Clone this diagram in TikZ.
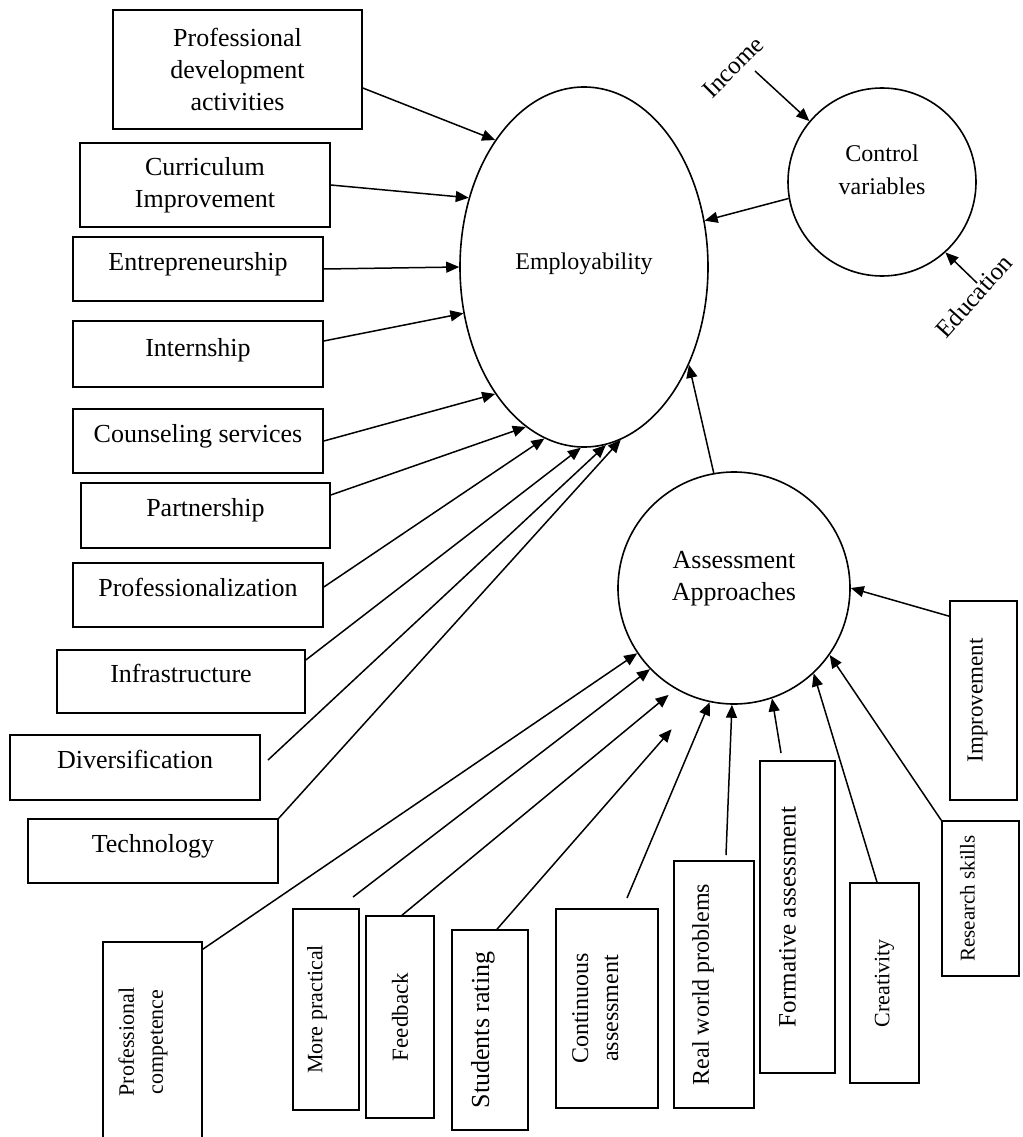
\documentclass[tikz,border=0pt]{standalone}
\usepackage{fontspec}
\setmainfont{Liberation Serif}
\usepackage{graphicx}
\usetikzlibrary{arrows.meta,shapes.geometric,calc}
\newcommand{\fsz}[2]{\fontsize{#1}{#2}\selectfont}
\begin{document}
\begin{tikzpicture}[x=1pt,y=-1pt,
  box/.style={draw, line width=1.6pt, rectangle, inner sep=0pt, font=\fsz{26pt}{32pt}, align=center},
  lbox/.style={box, text depth=16pt},
  vbox/.style={box, font=\fsz{23pt}{29pt}},
  arr/.style={line width=1.5pt, -{Triangle[length=13pt,width=11pt]}},
  circ/.style={draw, line width=1.6pt, circle, inner sep=0pt, align=center},
]
\useasboundingbox (0,0) rectangle (1022,1137);

% left boxes
\node[box, minimum width=249pt, minimum height=119pt] (pd) at (237.5,69.5) {Professional\\development\\activities};
\node[box, minimum width=250pt, minimum height=84pt] (cu) at (205,185) {Curriculum\\Improvement};
\node[lbox, minimum width=250pt, minimum height=64pt] (en) at (198,269) {Entrepreneurship};
\node[lbox, minimum width=250pt, minimum height=66pt, text depth=14pt] (in) at (198,354) {Internship};
\node[lbox, minimum width=250pt, minimum height=64pt] (co) at (198,441) {Counseling services};
\node[lbox, minimum width=249pt, minimum height=65pt] (pa) at (205.5,515.5) {Partnership};
\node[lbox, minimum width=250pt, minimum height=64pt] (pr) at (198,595) {Professionalization};
\node[lbox, minimum width=248pt, minimum height=63pt] (inf) at (181,681.5) {Infrastructure};
\node[lbox, minimum width=250pt, minimum height=65pt] (di) at (135,767.5) {Diversification};
\node[lbox, minimum width=250pt, minimum height=64pt] (te) at (153,851) {Technology};

% ellipse and circles
\node[draw, ellipse, line width=1.6pt, minimum width=248pt, minimum height=360pt, inner sep=0pt,
      font=\fsz{24pt}{29pt}, text height=16pt, text depth=12pt] (emp) at (584,267) {Employability};
\node[circ, minimum size=188pt, font=\fsz{24pt}{33pt}] (cv) at (882,182) {Control\\variables\rule[-25pt]{0pt}{0pt}};
\node[circ, minimum size=232pt, font=\fsz{26pt}{32pt}] (aa) at (734,588) {Assessment\\Approaches\rule[-24pt]{0pt}{0pt}};

% control variable labels
\node[font=\fsz{25pt}{30pt}, rotate=45] (inc) at (733,67) {Income};
\node[font=\fsz{25pt}{30pt}, rotate=48, inner sep=1pt] (edu) at (974,296) {Education};

% bottom / right boxes
\node[vbox, font=\fsz{22pt}{29pt}, minimum width=99pt, minimum height=200pt] (pc) at (152.5,1042) {\rotatebox{90}{\begin{tabular}{@{}c@{}}Professional\\competence\end{tabular}}\hspace{20pt}};
\node[vbox, font=\fsz{22pt}{29pt}, minimum width=66pt, minimum height=201pt] (mp) at (326,1009.5) {\rotatebox{90}{More practical}\hspace{18pt}};
\node[vbox, minimum width=68pt, minimum height=202pt] (fb) at (400,1017) {\rotatebox{90}{Feedback}};
\node[vbox, font=\fsz{26pt}{30pt}, minimum width=76pt, minimum height=200pt] (sr) at (490,1030) {\rotatebox{90}{Students rating}\hspace{14pt}};
\node[vbox, font=\fsz{24pt}{30pt}, minimum width=102pt, minimum height=199pt] (ca) at (607,1008.5) {\rotatebox{90}{\begin{tabular}{@{}c@{}}Continuous\\assessment\end{tabular}}\hspace{20pt}};
\node[vbox, font=\fsz{24pt}{30pt}, minimum width=80pt, minimum height=247pt] (rw) at (714,984.5) {\rotatebox{90}{Real world problems}\hspace{22pt}};
\node[vbox, font=\fsz{25pt}{30pt}, minimum width=75pt, minimum height=312pt] (fa) at (797.5,917) {\rotatebox{90}{Formative assessment}\hspace{20pt}};
\node[vbox, font=\fsz{22pt}{30pt}, minimum width=69pt, minimum height=200pt] (cr) at (884.5,983) {\rotatebox{90}{Creativity}};
\node[vbox, font=\fsz{21pt}{30pt}, minimum width=77pt, minimum height=155pt] (rs) at (980.5,898.5) {\rotatebox{90}{Research skills}\hspace{26pt}};
\node[vbox, minimum width=67pt, minimum height=199pt] (im) at (983.5,700.5) {\rotatebox{90}{Improvement}\hspace{12pt}};

% free ends
\coordinate (incs) at (755,71);
\coordinate (edus) at (977,283);
\coordinate (dis) at (268,760);
\coordinate (mps) at (353,897);
\coordinate (cas) at (627,898);
\coordinate (rws) at (726,855);
\coordinate (fas) at (781,753);

% arrows into Employability
\draw[arr] ([yshift=-18.5pt]pd.east) -- (emp.125);
\draw[arr] (cu.east) -- (emp.149);
\draw[arr] (en.east) -- (emp.180);
\draw[arr] ([yshift=13pt]in.east) -- (emp.201);
\draw[arr] (co.east) -- (emp.235);
\draw[arr] ([yshift=20.5pt]pa.east) -- (emp.250);
\draw[arr] ([yshift=8pt]pr.east) -- (emp.257);
\draw[arr] ([yshift=21.5pt]inf.east) -- (emp.269.4);
\draw[arr] (dis) -- (emp.277.8);
\draw[arr] (te.north east) -- (emp.282.4);
\draw[arr] (cv.190) -- (emp.21);
\draw[arr] (aa.100) -- (emp.317);

% control variables
\draw[arr] (incs) -- (cv.140);
\draw[arr] (edus) -- (cv.312);

% arrows into Assessment Approaches
\draw[arr] ([yshift=-8pt]pc.north east) -- (aa.214);
\draw[arr] (mps) -- (aa.224);
\draw[arr, shorten >=9pt] ([xshift=2pt]fb.north) -- (aa.240);
\draw[arr, shorten >=40pt] ([xshift=7pt]sr.north) -- (aa.252);
\draw[arr] (cas) -- (aa.258);
\draw[arr] (rws) -- (aa.269.5);
\draw[arr] (fas) -- (aa.289.6);
\draw[arr] ([xshift=-7.5pt]cr.north) -- (aa.313.7);
\draw[arr] (rs.north west) -- (aa.325);
\draw[arr] ([yshift=-16pt]im.north west) -- (aa.0.5);
\end{tikzpicture}
\end{document}
